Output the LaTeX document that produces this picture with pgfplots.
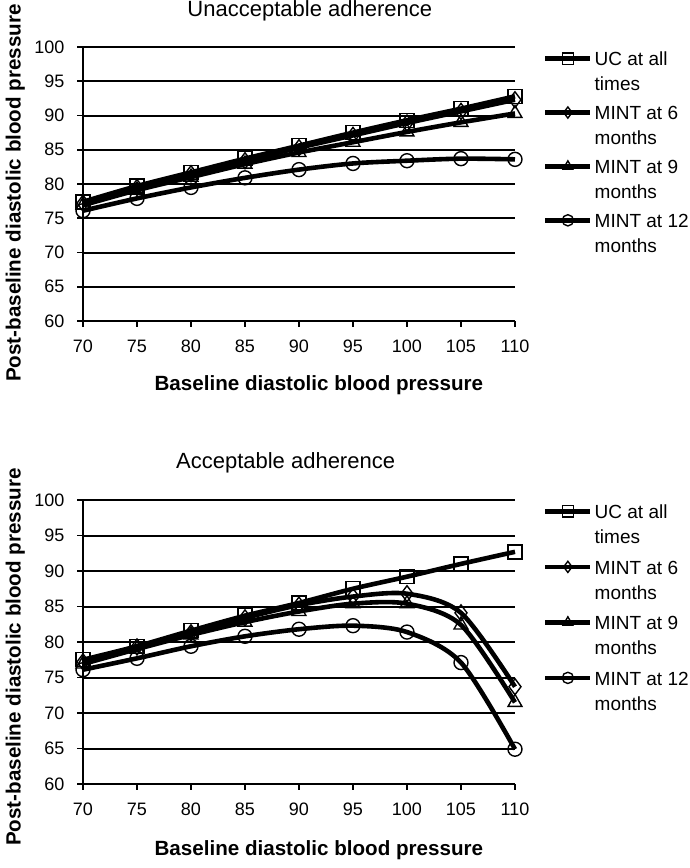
\documentclass[border=0pt]{standalone}
\usepackage{fontspec}
\setmainfont{Liberation Sans}
\usepackage{pgfplots}
\pgfplotsset{compat=1.18}

\pgfplotsset{
  bpaxis/.style={
    scale only axis, width=216pt,
    xmin=70, xmax=110, ymin=60, ymax=100,
    xtick={70,75,...,110}, ytick={60,65,...,100},
    axis lines=left, axis line style={-, line width=0.9pt},
    tick align=outside, major tick length=2.8pt,
    tick style={black, line width=0.9pt},
    ymajorgrids, major grid style={black, line width=1pt},
    clip=false,
    ticklabel style={font=\fontsize{9}{10}\selectfont},
    /pgf/number format/assume math mode=true,
    xticklabel style={yshift=-3pt},
    yticklabel style={xshift=-3pt},
    title style={font=\fontsize{11}{13}\selectfont, anchor=center},
    xlabel={Baseline diastolic blood pressure},
    ylabel={Post-baseline diastolic blood pressure},
    label style={font=\bfseries\fontsize{10.3}{12}\selectfont},
    legend cell align=left,
    legend style={draw=none, fill=none, inner sep=0pt, outer sep=0pt, anchor=north west,
      font=\fontsize{9.5}{12.5}\selectfont, nodes={inner sep=0pt}, column sep=1pt},
    legend image code/.code={
      \draw[#1, mark=none] (0pt,0pt) -- (22.5pt,0pt);
      \draw[#1, mark size=2.8pt] plot coordinates {(11.25pt,0pt)};
    },
  },
  ser/.style={black, line width=2.3pt, smooth, tension=0.5,
    mark options={solid, fill=white, line width=0.7pt}, mark size=3.5pt},
}
\newcommand{\two}[2]{\begin{tabular}[t]{@{}l@{}}#1\\#2\end{tabular}}

\begin{document}
\begin{tikzpicture}
\path[use as bounding box] (-41.5pt,-273.5pt) rectangle (303.5pt,160.5pt);

% top panel
\begin{axis}[bpaxis, height=137pt,
  title={Unacceptable adherence},
  title style={at={(axis description cs:0.525,1.088)}},
  xlabel style={at={(axis description cs:0.546,-0.234)}, anchor=center},
  ylabel style={at={(axis description cs:-0.157,0.467)}, anchor=center},
  legend style={at={(axis description cs:1.065,0.995)}, row sep=16.7pt},
]
\addplot[ser, mark=square] coordinates {(70,77.4) (75,79.7) (80,81.7) (85,83.7) (90,85.6) (95,87.5) (100,89.3) (105,91.0) (110,92.8)};
\addlegendentry{\two{UC at all}{times}}
\addplot[ser, mark=diamond, mark size=4pt] coordinates {(70,77.2) (75,79.5) (80,81.5) (85,83.4) (90,85.3) (95,87.1) (100,88.9) (105,90.6) (110,92.3)};
\addlegendentry{\two{MINT at 6}{months}}
\addplot[ser, mark=triangle, mark size=4pt] coordinates {(70,76.9) (75,79.1) (80,81.0) (85,82.9) (90,84.6) (95,86.1) (100,87.6) (105,89.0) (110,90.3)};
\addlegendentry{\two{MINT at 9}{months}}
\addplot[ser, mark=o] coordinates {(70,76.1) (75,77.9) (80,79.5) (85,80.9) (90,82.1) (95,83.0) (100,83.4) (105,83.7) (110,83.6)};
\addlegendentry{\two{MINT at 12}{months}}
\end{axis}

% bottom panel
\begin{axis}[bpaxis, height=142pt, at={(0pt,-231.5pt)}, anchor=south west,
  title={Acceptable adherence},
  title style={at={(axis description cs:0.469,1.088)}},
  xlabel style={at={(axis description cs:0.546,-0.232)}, anchor=center},
  ylabel style={at={(axis description cs:-0.157,0.447)}, anchor=center},
  legend style={at={(axis description cs:1.065,0.996)}, row sep=17.5pt},
]
\addplot[ser, mark=square] coordinates {(70,77.5) (75,79.4) (80,81.6) (85,83.7) (90,85.5) (95,87.5) (100,89.2) (105,91.0) (110,92.7)};
\addlegendentry{\two{UC at all}{times}}
\addplot[ser, mark=diamond, mark size=4pt] coordinates {(70,77.2) (75,79.3) (80,81.3) (85,83.4) (90,85.2) (95,86.4) (100,86.8) (105,84.1) (110,73.7)};
\addlegendentry{\two{MINT at 6}{months}}
\addplot[ser, mark=triangle, mark size=4pt] coordinates {(70,76.9) (75,79.0) (80,81.0) (85,82.8) (90,84.3) (95,85.4) (100,85.4) (105,82.4) (110,71.5)};
\addlegendentry{\two{MINT at 9}{months}}
\addplot[ser, mark=o] coordinates {(70,76.1) (75,77.7) (80,79.4) (85,80.8) (90,81.8) (95,82.3) (100,81.4) (105,77.1) (110,64.9)};
\addlegendentry{\two{MINT at 12}{months}}
\end{axis}
\end{tikzpicture}
\end{document}
